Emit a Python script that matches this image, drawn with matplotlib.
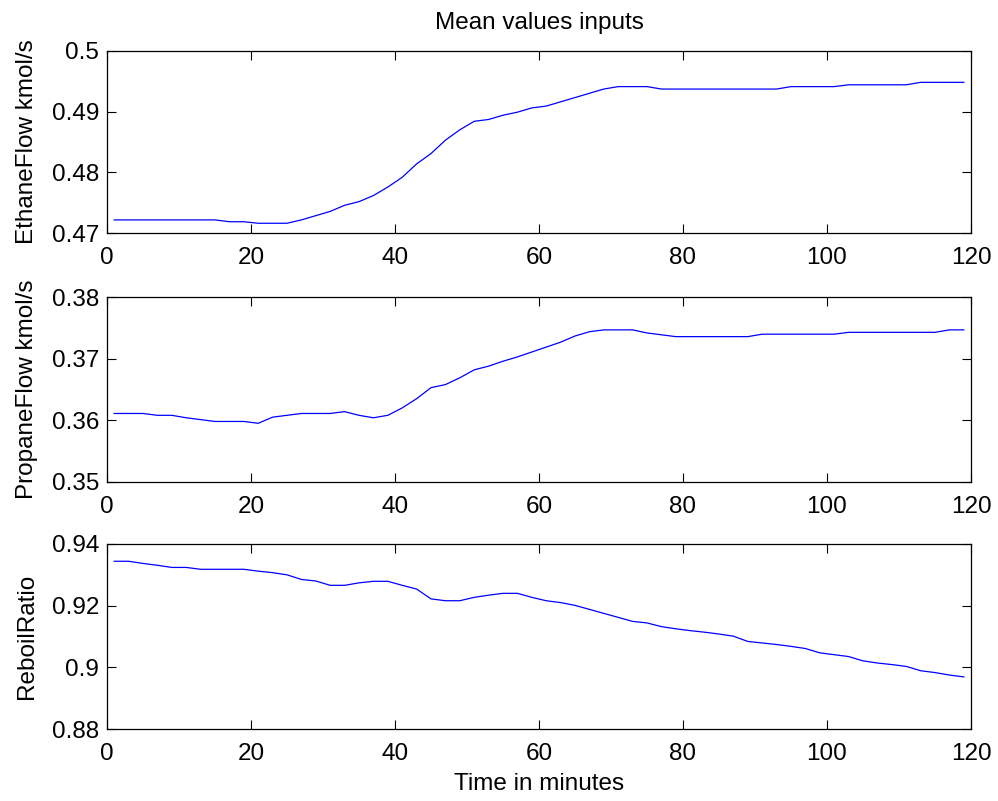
import matplotlib
matplotlib.use("Agg")
import matplotlib.pyplot as plt

# Sampling instants (minutes)
minutes = list(range(1, 120, 2))

ethane_flow = [
    0.4722, 0.4722, 0.4722, 0.4722, 0.4722, 0.4722, 0.4722, 0.4722,
    0.4719, 0.4719,
    0.47165, 0.47165, 0.47165,
    0.4722, 0.4729, 0.4736, 0.4746, 0.4752, 0.4762, 0.4776, 0.4792,
    0.4814, 0.4831, 0.4853, 0.4870, 0.4884, 0.4887, 0.4894, 0.4899,
    0.4906, 0.4909, 0.4916, 0.4923, 0.4930, 0.4937,
    0.4941, 0.4941, 0.4941,
    0.4937, 0.4937, 0.4937, 0.4937, 0.4937, 0.4937, 0.4937, 0.4937, 0.4937,
    0.4941, 0.4941, 0.4941, 0.4941,
    0.4944, 0.4944, 0.4944, 0.4944, 0.4944,
    0.4948, 0.4948, 0.4948, 0.4948,
]

propane_flow = [
    0.3611, 0.3611, 0.3611, 0.3608, 0.3608, 0.3604, 0.3601, 0.3598,
    0.3598, 0.3598, 0.3595, 0.3605, 0.3608, 0.3611, 0.3611, 0.3611,
    0.3614, 0.3608, 0.3604, 0.3608,
    0.3620, 0.3635, 0.3653, 0.3658, 0.3669, 0.3682, 0.3688, 0.3696,
    0.3703, 0.3711, 0.3719, 0.3727, 0.3737, 0.3744,
    0.3747, 0.3747, 0.3747, 0.3742, 0.3739,
    0.3736, 0.3736, 0.3736, 0.3736, 0.3736, 0.3736,
    0.3740, 0.3740, 0.3740, 0.3740, 0.3740, 0.3740,
    0.3743, 0.3743, 0.3743, 0.3743, 0.3743, 0.3743, 0.3743,
    0.3747, 0.3747,
]

reboil_ratio = [
    0.9344, 0.9344, 0.9337, 0.9331, 0.9324, 0.9324, 0.9318, 0.9318,
    0.9318, 0.9318, 0.9312, 0.9307, 0.9300, 0.9285, 0.9280, 0.9266,
    0.9266, 0.9274, 0.9279, 0.9279, 0.9266, 0.9254, 0.9222, 0.9216,
    0.9216, 0.9227, 0.9234, 0.9240, 0.9240, 0.9227, 0.9216, 0.9210,
    0.9201, 0.9188, 0.9175, 0.9162, 0.9149, 0.9144, 0.9132, 0.9125,
    0.9119, 0.9114, 0.9108, 0.9101, 0.9084, 0.9079, 0.9074, 0.9068,
    0.9061, 0.9047, 0.9041, 0.9035, 0.9021, 0.9014, 0.9009, 0.9003,
    0.8989, 0.8983, 0.8975, 0.8969,
]

panel_labels = ["EthaneFlow kmol/s", "PropaneFlow kmol/s", "ReboilRatio"]
panel_series = [ethane_flow, propane_flow, reboil_ratio]
panel_ylims = [(0.47, 0.50), (0.35, 0.38), (0.88, 0.94)]
panel_yticks = [
    [0.47, 0.48, 0.49, 0.50],
    [0.35, 0.36, 0.37, 0.38],
    [0.88, 0.90, 0.92, 0.94],
]
panel_yticklabels = [
    ["0.47", "0.48", "0.49", "0.5"],
    ["0.35", "0.36", "0.37", "0.38"],
    ["0.88", "0.9", "0.92", "0.94"],
]
x_ticks = [0, 20, 40, 60, 80, 100, 120]

plt.rcParams["font.family"] = ["Liberation Sans", "DejaVu Sans"]
FS = 17.5

fig = plt.figure(figsize=(9.98, 8.01), dpi=100)

W, H = 998.0, 801.0
left_px, right_px = 107.0, 971.0
panel_px = [(50.7, 233.3), (297.3, 481.7), (544.0, 729.0)]

axes = []
for (top, bot), series, label, ylim, yt, ytl in zip(
        panel_px, panel_series, panel_labels, panel_ylims,
        panel_yticks, panel_yticklabels):
    ax = fig.add_axes([left_px / W, 1 - bot / H,
                       (right_px - left_px) / W, (bot - top) / H])
    ax.plot(minutes, series, color="#0000ff", linewidth=0.9)
    ax.set_xlim(0, 120)
    ax.set_ylim(*ylim)
    ax.set_xticks(x_ticks)
    ax.set_xticklabels([str(v) for v in x_ticks])
    ax.set_yticks(yt)
    ax.set_yticklabels(ytl)
    ax.tick_params(direction="in", length=6.2, width=0.8,
                   top=True, right=True, labelsize=FS, colors="black")
    ax.tick_params(axis="x", pad=10.0)
    ax.tick_params(axis="y", pad=5.8)
    for sp in ax.spines.values():
        sp.set_linewidth(0.9)
        sp.set_color("black")
    ax.set_ylabel(label, fontsize=FS)
    ax.yaxis.set_label_coords(-0.080, 0.5)
    axes.append(ax)

axes[0].set_title("Mean values inputs", fontsize=FS, pad=15.5)
axes[2].set_xlabel("Time in minutes", fontsize=FS)
axes[2].xaxis.set_label_coords(0.5, -0.240)

fig.savefig("out.png", dpi=100, facecolor="white")
